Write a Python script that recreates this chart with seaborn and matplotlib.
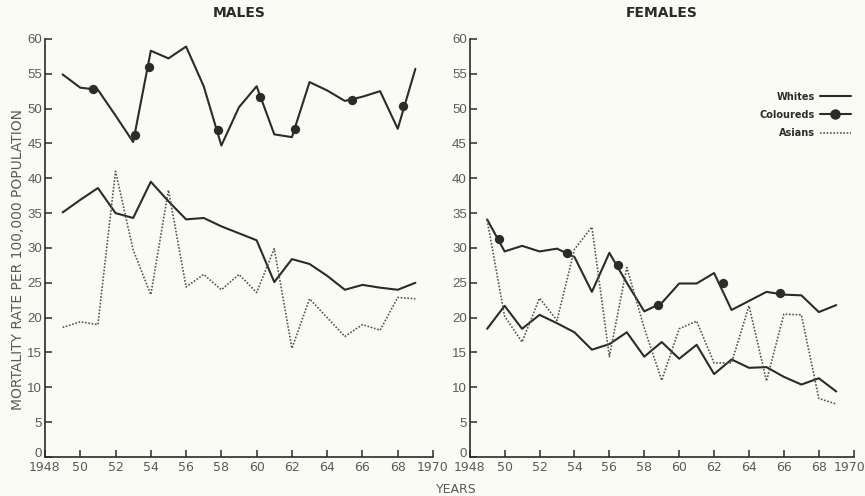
import numpy as np
import pandas as pd
import matplotlib
matplotlib.use("Agg")
import matplotlib.pyplot as plt
from matplotlib.lines import Line2D
from matplotlib.transforms import ScaledTranslation
import seaborn as sns

# ---- data: mortality rate per 100,000 population ----
years = list(range(1949, 1970))

male_whites = [35.1, 36.9, 38.6, 35.0, 34.3, 39.5, 36.7, 34.1, 34.3, 33.1, 32.1, 31.1,
               25.1, 28.4, 27.7, 26.0, 24.0, 24.7, 24.3, 24.0, 25.0]
male_coloureds = [54.9, 53.0, 52.7, 49.0, 45.2, 58.3, 57.2, 58.9, 53.2, 44.7, 50.2, 53.2,
                  46.3, 45.9, 53.8, 52.6, 51.1, 51.7, 52.5, 47.1, 55.7]
male_asians = [18.6, 19.4, 19.0, 41.0, 29.7, 23.3, 38.3, 24.4, 26.2, 24.0, 26.2, 23.6,
               29.9, 15.6, 22.7, 20.0, 17.3, 19.0, 18.2, 22.9, 22.7]

female_whites = [18.4, 21.7, 18.4, 20.4, 19.2, 17.9, 15.4, 16.2, 17.9, 14.4, 16.5, 14.1,
                 16.1, 11.9, 14.0, 12.8, 12.9, 11.5, 10.4, 11.3, 9.4]
female_coloureds = [34.1, 29.5, 30.3, 29.5, 29.9, 28.7, 23.7, 29.3, 25.0, 20.9, 22.1, 24.9,
                    24.9, 26.4, 21.1, 22.4, 23.7, 23.3, 23.2, 20.8, 21.8]
female_asians = [34.0, 20.2, 16.5, 22.8, 19.6, 29.8, 33.0, 14.4, 27.2, 18.5, 11.0, 18.4,
                 19.5, 13.5, 13.5, 21.7, 10.9, 20.5, 20.4, 8.4, 7.6]

# symbol positions along the Coloureds curves
male_dot_years = [1950.7, 1953.1, 1953.9, 1957.8, 1960.2, 1962.2, 1965.4, 1968.3]
male_dot_values = [52.8, 46.2, 55.9, 46.9, 51.7, 47.0, 51.2, 50.3]
female_dot_years = [1949.7, 1953.6, 1956.5, 1958.8, 1962.5, 1965.8]
female_dot_values = [31.3, 29.3, 27.5, 21.8, 24.9, 23.5]

x_ticks = list(range(1948, 1971, 2))
x_tick_labels = ["1948", "50", "52", "54", "56", "58", "60", "62", "64", "66", "68", "1970"]
y_ticks = list(range(0, 61, 5))

panels = ["MALES", "FEMALES"]
groups = ["Whites", "Coloureds", "Asians"]

series = {
    "MALES": {"Whites": male_whites, "Coloureds": male_coloureds, "Asians": male_asians},
    "FEMALES": {"Whites": female_whites, "Coloureds": female_coloureds, "Asians": female_asians},
}
dots = {
    "MALES": (male_dot_years, male_dot_values),
    "FEMALES": (female_dot_years, female_dot_values),
}

rows = []
for p in panels:
    for g in groups:
        for y, v in zip(years, series[p][g]):
            rows.append({"panel": p, "group": g, "year": y, "rate": v})
df = pd.DataFrame(rows)

# ---- style ----
sns.set_style("ticks")
bg = "#fbfbf6"
ink = "#2b2b2b"
text_col = "#5a5a5a"
narrow = ["Liberation Sans Narrow", "DejaVu Sans"]
plt.rcParams["font.family"] = ["Liberation Sans", "DejaVu Sans"]

fig = plt.figure(figsize=(8.65, 4.96), dpi=100, facecolor=bg)
ax_m = fig.add_axes([0.052, 0.0786, 0.4486, 0.843])
ax_f = fig.add_axes([0.543, 0.0786, 0.444, 0.843])

styles = {
    "Whites": dict(color=ink, linewidth=1.5, linestyle="-"),
    "Coloureds": dict(color=ink, linewidth=1.5, linestyle="-"),
    "Asians": dict(color="#555555", linewidth=1.2, linestyle=(0, (1, 1))),
}

for ax, p in zip([ax_m, ax_f], panels):
    ax.set_facecolor(bg)
    sub = df[df["panel"] == p]
    for g in groups:
        sns.lineplot(data=sub[sub["group"] == g], x="year", y="rate", ax=ax,
                     legend=False, errorbar=None, **styles[g])
    dx, dy = dots[p]
    sns.scatterplot(x=dx, y=dy, ax=ax, color=ink, s=45, edgecolor=ink,
                    linewidth=0, zorder=5, legend=False)

    ax.set_xlim(1948, 1970)
    ax.set_ylim(0, 60)
    ax.set_xticks(x_ticks)
    ax.set_xticklabels(x_tick_labels, family=narrow, fontsize=9, color=text_col)
    ax.set_yticks(y_ticks)
    ax.set_yticklabels([str(t) for t in y_ticks], fontsize=9.5, color=text_col)
    ax.tick_params(axis="both", direction="in", length=5, width=1.1, color=ink, pad=3)
    ax.tick_params(axis="y", pad=2)
    # lift the "0" label a little so it clears the year labels below
    zero = ax.get_yticklabels()[0]
    zero.set_transform(zero.get_transform() + ScaledTranslation(0, 3 / 72, fig.dpi_scale_trans))
    for s in ["top", "right"]:
        ax.spines[s].set_visible(False)
    for s in ["left", "bottom"]:
        ax.spines[s].set_color(ink)
        ax.spines[s].set_linewidth(1.2)
    ax.set_xlabel("")
    ax.set_ylabel("")
    ax.set_title(p, family=narrow, fontsize=10, fontweight="bold", color=ink, pad=16)

# keep the final year label inside the figure edge
last = ax_f.get_xticklabels()[-1]
last.set_transform(last.get_transform() + ScaledTranslation(-3 / 72, 0, fig.dpi_scale_trans))

# legend on the females panel: label first, line sample after it
handles = [
    Line2D([], [], **styles["Whites"]),
    Line2D([], [], marker="o", markersize=6.5, markerfacecolor=ink,
           markeredgecolor=ink, **styles["Coloureds"]),
    Line2D([], [], **styles["Asians"]),
]
leg = ax_f.legend(handles, groups, loc="upper right", bbox_to_anchor=(1.015, 0.895),
                  frameon=False, markerfirst=False, handlelength=3.2, handletextpad=0.5,
                  labelspacing=0.85, numpoints=1,
                  prop={"family": narrow, "size": 7, "weight": "bold"})
for t in leg.get_texts():
    t.set_color(ink)

fig.text(0.021, 0.476, "MORTALITY RATE PER 100,000 POPULATION", rotation=90,
         ha="center", va="center", fontsize=10, color=text_col,
         family=["DejaVu Sans"])
fig.text(0.527, 0.014, "YEARS", ha="center", va="center", fontsize=9,
         color=text_col, family=["DejaVu Sans"])

fig.savefig("out.png", dpi=100, facecolor=bg)
